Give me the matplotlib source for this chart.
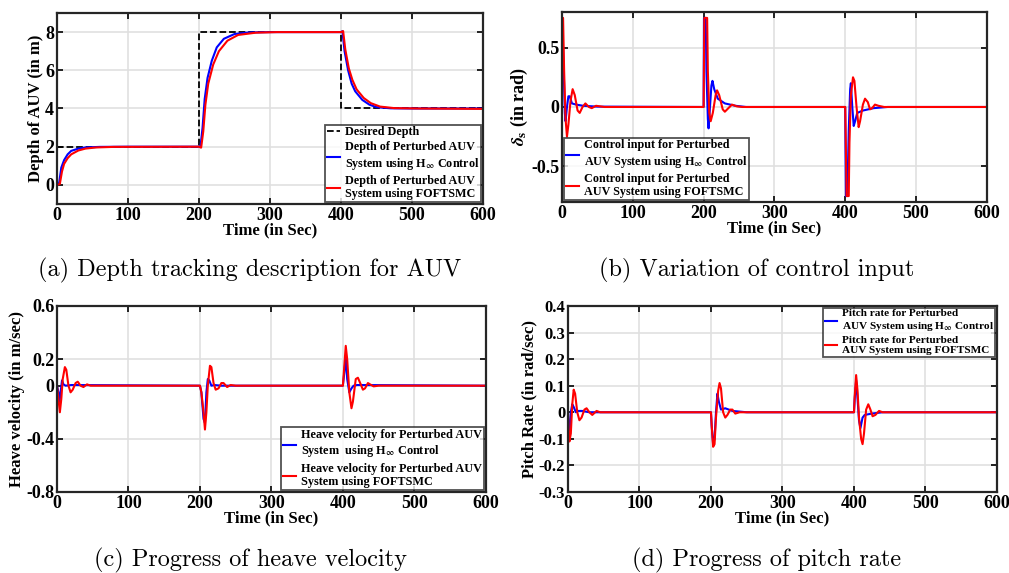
import numpy as np
import matplotlib
matplotlib.use("Agg")
import matplotlib.pyplot as plt

plt.rcParams["font.family"] = "Liberation Serif"
plt.rcParams["font.weight"] = "bold"
plt.rcParams["mathtext.fontset"] = "stix"

# ---------------- data ----------------
# (a) depth
t_ref = [0, 200, 400, 600]
depth_ref = [2, 8, 4, 4]

t_dep_h = [0, 3, 6, 10, 15, 20, 30, 40, 60, 100, 200, 202, 205, 208, 212, 218, 225,
           235, 250, 270, 300, 400, 402, 405, 410, 415, 420, 430, 440, 450, 470, 500, 600]
dep_h = [0, 0.1, 0.9, 1.3, 1.6, 1.78, 1.9, 1.96, 1.99, 2, 2, 1.98, 3.0, 4.5, 5.6, 6.5, 7.2,
         7.65, 7.9, 7.98, 8, 8, 8.05, 7.0, 6.0, 5.3, 4.9, 4.45, 4.2, 4.07, 4.01, 4.0, 4.0]
t_dep_f = [0, 4, 7, 10, 15, 20, 30, 40, 55, 80, 200, 203, 206, 209, 213, 220, 228,
           240, 255, 280, 310, 400, 403, 406, 411, 416, 422, 432, 442, 455, 475, 510, 600]
dep_f = [0, 0.05, 0.7, 1.1, 1.4, 1.6, 1.8, 1.9, 1.96, 1.99, 2, 1.95, 2.8, 4.2, 5.3, 6.3, 7.0,
         7.55, 7.85, 7.97, 8, 8, 8.05, 7.1, 6.1, 5.5, 5.0, 4.55, 4.28, 4.1, 4.02, 4.0, 3.98]

# (b) control input
t_u_h = [0, 2, 4, 5, 7, 9, 11, 14, 20, 30, 50, 200, 200.5, 203, 204, 206, 207, 209, 211,
         212.5, 215, 220, 230, 245, 260, 400, 401, 403, 405, 407, 408, 410, 412, 414, 417,
         425, 440, 460, 600]
u_h = [0.75, 0.4, -0.05, -0.12, 0.0, 0.09, 0.09, 0.03, 0.02, 0.01, 0.003, 0, 0.75, 0.75, 0.3,
       -0.1, -0.18, 0.0, 0.18, 0.22, 0.15, 0.07, 0.03, 0.01, 0, 0, -0.75, -0.75, -0.2, 0.15,
       0.2, 0.0, -0.16, -0.12, -0.05, -0.03, -0.01, 0, 0]
t_u_f = [0, 1.5, 3, 5, 7, 9, 12, 15, 18, 22, 25, 29, 33, 38, 42, 48, 60, 200, 201, 205, 206,
         208, 210, 213, 217, 219, 222, 227, 230, 235, 240, 247, 255, 400, 402, 405, 406, 408,
         411, 413, 416, 419, 421, 425, 428, 432, 435, 438, 442, 447, 455, 600]
u_f = [0.75, 0.75, 0.3, -0.1, -0.25, -0.15, 0.05, 0.15, 0.1, -0.03, -0.05, 0.0, 0.03, 0.0,
       -0.01, 0.01, 0, 0, 0.75, 0.75, 0.3, -0.05, -0.12, -0.05, 0.1, 0.14, 0.1, -0.02, -0.04,
       -0.01, 0.02, 0.005, 0, 0, -0.75, -0.75, -0.3, 0.1, 0.25, 0.22, 0.0, -0.17, -0.12, 0.02,
       0.07, 0.04, -0.02, -0.01, 0.02, 0.01, 0, 0]

# (c) heave velocity
t_w_h = [0, 2, 3.5, 5, 7, 9, 12, 20, 200, 202, 205, 207, 209, 211, 213, 216, 220, 230,
         400, 402, 404, 406, 409, 412, 415, 420, 600]
w_h = [0, -0.05, -0.12, -0.05, 0.04, 0.01, 0.0, 0.005, 0, -0.05, -0.25, -0.28, -0.05, 0.05,
       0.04, 0.0, 0.005, 0.0, 0, 0.1, 0.22, 0.05, -0.05, -0.02, 0.0, 0.005, 0]
t_w_f = [0, 2, 4, 6, 8, 11, 13, 16, 19, 22, 26, 29, 33, 37, 42, 47, 200, 202, 205, 207, 209,
         211, 214, 216, 219, 222, 226, 230, 233, 238, 243, 250, 400, 402, 404, 406, 409, 412,
         414, 418, 421, 425, 428, 431, 435, 438, 443, 450, 600]
w_f = [0, -0.1, -0.2, -0.1, 0.05, 0.14, 0.12, 0.0, -0.05, -0.03, 0.02, 0.03, 0.0, -0.01,
       0.01, 0.0, 0, -0.05, -0.2, -0.33, -0.2, 0.0, 0.15, 0.14, 0.02, -0.03, -0.02, 0.02, 0.02,
       -0.01, 0.005, 0, 0, 0.15, 0.3, 0.2, -0.05, -0.17, -0.12, 0.05, 0.06, 0.01, -0.03, -0.02,
       0.02, 0.01, -0.005, 0.0, 0]

# (d) pitch rate
t_q_h = [0, 1, 2.5, 4, 6, 8, 11, 14, 20, 30, 200, 201, 203, 205, 207, 209, 211, 214, 220,
         230, 250, 400, 401, 403, 405, 407, 409, 412, 415, 425, 440, 600]
q_h = [0, -0.07, -0.08, 0.0, 0.03, 0.02, 0.0, 0.005, 0.005, 0.0, 0, -0.05, -0.12, -0.1, 0.0,
       0.07, 0.04, 0.01, 0.015, 0.005, 0, 0, 0.05, 0.12, 0.05, -0.03, -0.06, -0.02, -0.01,
       -0.005, 0.0, 0]
t_q_f = [0, 1, 2, 4, 6, 8, 10, 13, 16, 19, 23, 26, 30, 34, 40, 45, 200, 201, 203, 205, 207,
         210, 212, 214, 217, 220, 223, 227, 230, 234, 240, 400, 401, 403, 405, 407, 410, 412,
         414, 417, 420, 423, 426, 430, 435, 440, 600]
q_f = [0, -0.06, -0.11, -0.08, 0.03, 0.085, 0.07, 0.0, -0.03, -0.02, 0.01, 0.015, 0.0, -0.01,
       0.005, 0.0, 0, -0.05, -0.13, -0.12, -0.02, 0.08, 0.11, 0.09, 0.0, -0.02, -0.01, 0.01,
       0.01, -0.005, 0.0, 0, 0.06, 0.14, 0.08, -0.02, -0.1, -0.12, -0.08, 0.01, 0.03, 0.01,
       -0.015, -0.01, 0.005, 0.0, 0]

x_ticks = [0, 100, 200, 300, 400, 500, 600]
captions = ["(a) Depth tracking description for AUV", "(b) Variation of control input",
            "(c) Progress of heave velocity", "(d) Progress of pitch rate"]

BLUE = "#0000ff"
RED = "#ff0000"
HINF = r"H$_{\infty}$"

fig = plt.figure(figsize=(10.09, 5.73), dpi=100)
pos = [[0.0565, 0.644, 0.4222, 0.3333],
       [0.557, 0.6475, 0.421, 0.3316],
       [0.0565, 0.1414, 0.425, 0.3246],
       [0.5629, 0.1414, 0.4252, 0.3246]]
axes = [fig.add_axes(p) for p in pos]


def style(ax):
    ax.set_xlim(0, 600)
    ax.set_xticks(x_ticks)
    ax.grid(color="#e0e0e0", linewidth=1.2)
    ax.set_axisbelow(True)
    ax.tick_params(direction="in", top=True, right=True, length=4, width=1.2,
                   labelsize=13, pad=2)
    for s in ax.spines.values():
        s.set_linewidth(1.6)
        s.set_edgecolor("#262626")
    ax.set_xlabel("Time (in Sec)", fontsize=12, fontweight="bold", labelpad=-1)


def leg_kw(fs):
    return dict(fontsize=fs, frameon=True, fancybox=False, edgecolor="#262626",
                handlelength=1.1, handletextpad=0.4, borderpad=0.15, labelspacing=0.25,
                borderaxespad=0.15)


# (a)
ax = axes[0]
ax.plot(t_ref, depth_ref, "--", color="black", lw=1.3, drawstyle="steps-post",
        label="Desired Depth")
ax.plot(t_dep_h, dep_h, color=BLUE, lw=1.5,
        label="Depth of Perturbed AUV\nSystem using " + HINF + " Control")
ax.plot(t_dep_f, dep_f, color=RED, lw=1.5,
        label="Depth of Perturbed AUV\nSystem using FOFTSMC")
ax.set_ylim(-1, 9)
ax.set_yticks([0, 2, 4, 6, 8])
ax.set_ylabel("Depth of AUV (in m)", fontsize=12, fontweight="bold", labelpad=1)
style(ax)
lg = ax.legend(loc="lower right", **leg_kw(8.7))
lg.get_frame().set_linewidth(1.3)

# (b)
ax = axes[1]
ax.plot(t_u_h, u_h, color=BLUE, lw=1.5,
        label="Control input for Perturbed\nAUV System using " + HINF + " Control")
ax.plot(t_u_f, u_f, color=RED, lw=1.5,
        label="Control input for Perturbed\nAUV System using FOFTSMC")
ax.set_ylim(-0.8, 0.8)
ax.set_yticks([-0.5, 0, 0.5])
ax.set_yticklabels(["-0.5", "0", "0.5"])
ax.set_ylabel(r"$\delta_{\rm s}$ (in rad)", fontsize=13, fontweight="bold", labelpad=1)
style(ax)
lg = ax.legend(loc="lower left", **leg_kw(8.7))
lg.get_frame().set_linewidth(1.3)

# (c)
ax = axes[2]
ax.plot(t_w_h, w_h, color=BLUE, lw=1.5,
        label="Heave velocity for Perturbed AUV\nSystem  using " + HINF + " Control")
ax.plot(t_w_f, w_f, color=RED, lw=1.5,
        label="Heave velocity for Perturbed AUV\nSystem using FOFTSMC")
ax.set_ylim(-0.8, 0.6)
ax.set_yticks([-0.8, -0.4, 0, 0.2, 0.6])
ax.set_yticklabels(["-0.8", "-0.4", "0", "0.2", "0.6"])
ax.set_ylabel("Heave velocity (in m/sec)", fontsize=12, fontweight="bold", labelpad=1)
style(ax)
lg = ax.legend(loc="lower right", **leg_kw(8.8))
lg.get_frame().set_linewidth(1.3)

# (d)
ax = axes[3]
ax.plot(t_q_h, q_h, color=BLUE, lw=1.5,
        label="Pitch rate for Perturbed\nAUV System using " + HINF + " Control")
ax.plot(t_q_f, q_f, color=RED, lw=1.5,
        label="Pitch rate for Perturbed\nAUV System using FOFTSMC")
ax.set_ylim(-0.3, 0.4)
ax.set_yticks([-0.3, -0.2, -0.1, 0, 0.1, 0.2, 0.3, 0.4])
ax.set_yticklabels(["-0.3", "-0.2", "-0.1", "0", "0.1", "0.2", "0.3", "0.4"])
ax.set_ylabel("Pitch Rate (in rad/sec)", fontsize=12, fontweight="bold", labelpad=1)
style(ax)
ax.tick_params(axis="y", labelsize=12)
lg = ax.legend(loc="upper right", **leg_kw(8.1))
lg.get_frame().set_linewidth(1.3)

# captions
cap_xy = [(250, 270), (757, 270), (250, 560), (767, 560)]
for (cx, cy), txt in zip(cap_xy, captions):
    fig.text(cx / 1009, 1 - cy / 573, txt, ha="center", va="center",
             fontsize=17.5, family="cmr10", fontweight="normal")

fig.savefig("out.png", dpi=100)
